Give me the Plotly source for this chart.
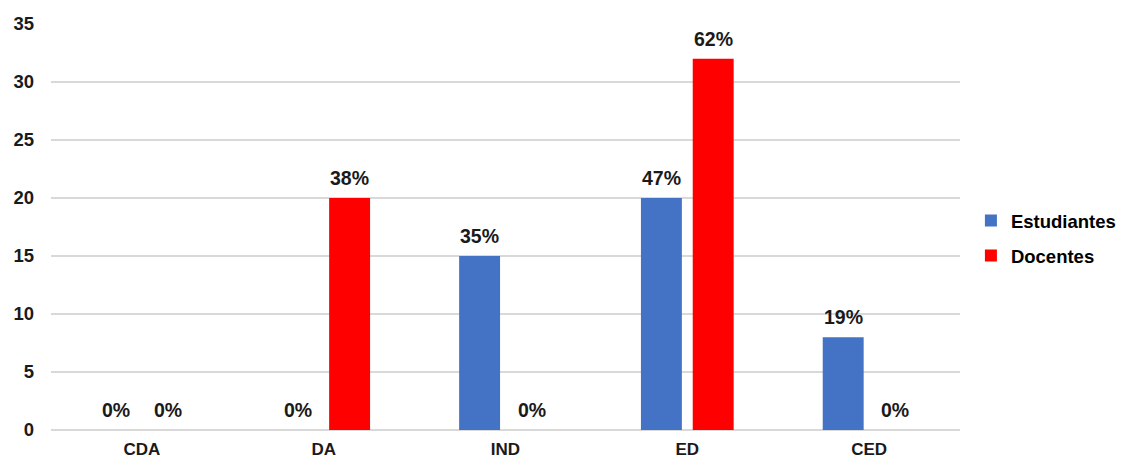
import plotly.graph_objects as go

categories = ["CDA", "DA", "IND", "ED", "CED"]
estudiantes = [0, 0, 15, 20, 8]
docentes = [0, 20, 0, 32, 0]
estudiantes_pct = ["0%", "0%", "35%", "47%", "19%"]
docentes_pct = ["0%", "38%", "0%", "62%", "0%"]
y_ticks = [0, 5, 10, 15, 20, 25, 30, 35]

FONT = "Liberation Sans, Arial, sans-serif"
BLUE = "#4472C4"
RED = "#FF0000"
TXT = "#1a1a1a"

fig = go.Figure()
fig.add_trace(go.Bar(x=categories, y=estudiantes, name="Estudiantes",
                     marker=dict(color=BLUE, line=dict(width=0)),
                     legendgroup="e"))
fig.add_trace(go.Bar(x=categories, y=docentes, name="Docentes",
                     marker=dict(color=RED, line=dict(width=0)),
                     legendgroup="d"))

# percentage labels above each bar
label_font = dict(family=FONT, size=19.5, color=TXT, weight="bold")
annotations = []
for cat, val, txt in zip(categories, estudiantes, estudiantes_pct):
    annotations.append(dict(x=cat, y=val, xref="x", yref="y", text=txt,
                            showarrow=False, xshift=-26, yshift=20,
                            yanchor="middle", xanchor="center",
                            font=label_font))
for cat, val, txt in zip(categories, docentes, docentes_pct):
    annotations.append(dict(x=cat, y=val, xref="x", yref="y", text=txt,
                            showarrow=False, xshift=26, yshift=20,
                            yanchor="middle", xanchor="center",
                            font=label_font))

fig.update_layout(
    width=1123, height=461,
    margin=dict(l=51, r=163, t=24, b=31, autoexpand=False),
    paper_bgcolor="white", plot_bgcolor="white",
    barmode="group", bargap=0.43, bargroupgap=0.21,
    font=dict(family=FONT, size=18, color=TXT, weight="bold"),
    annotations=annotations,
    showlegend=True,
    # legend sits just right of the plotting area
    legend=dict(x=1.012, y=0.472, xanchor="left", yanchor="middle",
                font=dict(family=FONT, size=18.5, color="#000000", weight="bold"),
                traceorder="grouped", tracegroupgap=8,
                itemwidth=30, bgcolor="rgba(0,0,0,0)"),
    xaxis=dict(showgrid=False, showline=False, zeroline=False,
               ticks="", ticklabelstandoff=7, automargin=False,
               tickfont=dict(family=FONT, size=17, color=TXT, weight="bold")),
    yaxis=dict(range=[0, 35], tickvals=y_ticks, showgrid=True,
               gridcolor="#D9D9D9", gridwidth=1.5, zeroline=True,
               zerolinecolor="#D9D9D9", zerolinewidth=1.5,
               showline=False, ticks="", ticklabelstandoff=16, automargin=False,
               tickfont=dict(family=FONT, size=18.5, color=TXT, weight="bold")),
)

fig.write_html("out.html")
